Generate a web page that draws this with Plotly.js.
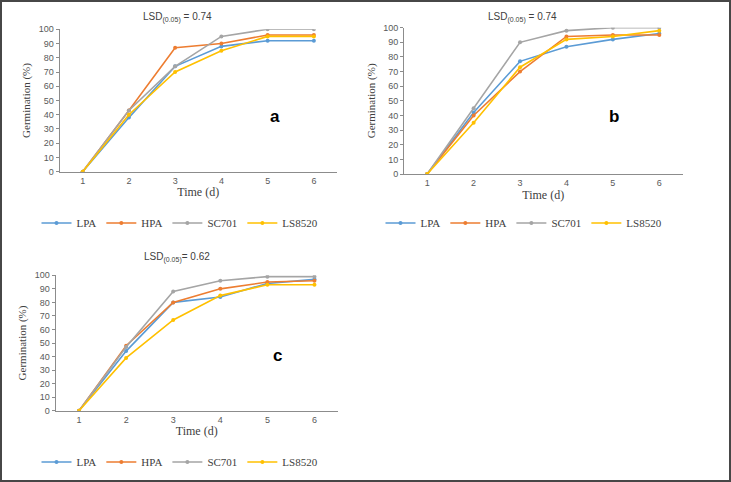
<!DOCTYPE html>
<html>
<head>
<meta charset="utf-8">
<script src="https://cdn.plot.ly/plotly-3.0.1.min.js"></script>
<style>
  html, body { margin: 0; padding: 0; background: #ffffff; }
  #chart { width: 731px; height: 482px; }
</style>
</head>
<body>
<div id="chart"></div>
<script>
// Days after sowing
const days = [1, 2, 3, 4, 5, 6];
const seriesNames = ['LPA', 'HPA', 'SC701', 'LS8520'];
const seriesColors = ['#5B9BD5', '#ED7D31', '#A5A5A5', '#FFC000'];

// Panel a
const lpaA = [0, 38, 74, 88, 92, 92];
const hpaA = [0, 43, 87, 90, 96, 96];
const sc701A = [0, 43, 74, 95, 100, 100];
const ls8520A = [0, 40, 70, 85, 95, 95];

// Panel b
const lpaB = [0, 42, 77, 87, 92, 96];
const hpaB = [0, 40, 70, 94, 95, 95];
const sc701B = [0, 45, 90, 98, 100, 100];
const ls8520B = [0, 35, 73, 92, 94, 98];

// Panel c
const lpaC = [0, 44, 80, 84, 94, 97];
const hpaC = [0, 48, 80, 90, 95, 96];
const sc701C = [0, 47, 88, 96, 99, 99];
const ls8520C = [0, 39, 67, 85, 93, 93];

const panelLetters = ['a', 'b', 'c'];
const lsdTexts = ['LSD<sub>(0.05)</sub> = 0.74', 'LSD<sub>(0.05)</sub> = 0.74', 'LSD<sub>(0.05)</sub>= 0.62'];

const panels = [
  { data: [lpaA, hpaA, sc701A, ls8520A], ax: '', legend: 'legend' },
  { data: [lpaB, hpaB, sc701B, ls8520B], ax: '2', legend: 'legend2' },
  { data: [lpaC, hpaC, sc701C, ls8520C], ax: '3', legend: 'legend3' }
];

const W = 731, H = 482;
const px = v => v / W;
const py = v => 1 - v / H;

const sans = 'Liberation Sans, Arial, sans-serif';
const serif = 'Liberation Serif, Times New Roman, serif';
const textGray = '#595959';
const darkGray = '#404040';
const axisGray = '#8C8C8C';

const traces = [];
panels.forEach(p => {
  p.data.forEach((ys, i) => {
    traces.push({
      x: days,
      y: ys,
      name: seriesNames[i],
      type: 'scatter',
      mode: 'lines+markers',
      line: { color: seriesColors[i], width: 1.6 },
      marker: { color: seriesColors[i], size: 4 },
      xaxis: 'x' + p.ax,
      yaxis: 'y' + p.ax,
      legend: p.legend,
      hoverinfo: 'skip'
    });
  });
});

function xAxis(domain, anchor) {
  return {
    domain: domain,
    anchor: anchor,
    range: [0.5, 6.5],
    tickvals: days,
    ticktext: days.map(String),
    showgrid: false,
    zeroline: false,
    showline: true,
    linecolor: axisGray,
    linewidth: 1,
    ticks: '',
    tickfont: { family: sans, size: 9, color: textGray },
    title: { text: 'Time (d)', font: { family: serif, size: 12, color: darkGray }, standoff: 3 }
  };
}

function yAxis(domain, anchor) {
  return {
    domain: domain,
    anchor: anchor,
    range: [0, 100],
    dtick: 10,
    showgrid: false,
    zeroline: false,
    showline: true,
    linecolor: axisGray,
    linewidth: 1,
    ticks: 'outside',
    ticklen: 3,
    tickcolor: axisGray,
    tickfont: { family: sans, size: 9, color: textGray },
    title: { text: 'Germination (%)', font: { family: serif, size: 11, color: darkGray }, standoff: 5 }
  };
}

function legendAt(xc, yc) {
  return {
    orientation: 'h',
    x: px(xc), y: py(yc),
    xanchor: 'center', yanchor: 'middle',
    font: { family: serif, size: 11, color: darkGray },
    itemwidth: 30,
    bgcolor: 'rgba(0,0,0,0)'
  };
}

const annotations = [];
const lsdPos = [[177, 18], [522, 18], [177, 257]];
const letterPos = [[275, 116], [614, 116], [277, 355]];
[0, 1, 2].forEach(i => {
  annotations.push({
    xref: 'paper', yref: 'paper',
    x: px(lsdPos[i][0]), y: py(lsdPos[i][1]),
    xanchor: 'center', yanchor: 'middle',
    text: lsdTexts[i], showarrow: false,
    font: { family: sans, size: 10, color: darkGray }
  });
  annotations.push({
    xref: 'paper', yref: 'paper',
    x: px(letterPos[i][0]), y: py(letterPos[i][1]),
    xanchor: 'center', yanchor: 'middle',
    text: '<b>' + panelLetters[i] + '</b>', showarrow: false,
    font: { family: sans, size: 17, color: '#000000' }
  });
});

const layout = {
  width: W,
  height: H,
  margin: { l: 0, r: 0, t: 0, b: 0 },
  paper_bgcolor: '#ffffff',
  plot_bgcolor: '#ffffff',
  showlegend: true,
  xaxis: xAxis([px(59.5), px(337)], 'y'),
  yaxis: yAxis([py(171.7), py(29.3)], 'x'),
  xaxis2: xAxis([px(404), px(682.5)], 'y2'),
  yaxis2: yAxis([py(174), py(27.7)], 'x2'),
  xaxis3: xAxis([px(55.5), px(338)], 'y3'),
  yaxis3: yAxis([py(410.7), py(275.3)], 'x3'),
  legend: legendAt(180, 223),
  legend2: legendAt(524, 223),
  legend3: legendAt(180, 462),
  annotations: annotations,
  shapes: [{
    type: 'rect', xref: 'paper', yref: 'paper',
    x0: px(1), x1: px(730), y0: py(1), y1: py(481),
    line: { color: '#474747', width: 2 }
  }]
};

Plotly.newPlot('chart', traces, layout, { displayModeBar: false, staticPlot: true });
</script>
</body>
</html>
